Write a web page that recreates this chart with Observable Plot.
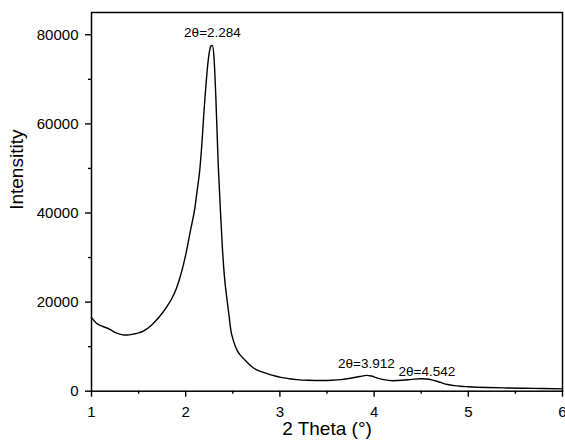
<!DOCTYPE html>
<html>
<head>
<meta charset="utf-8">
<script src="https://cdn.jsdelivr.net/npm/d3@7"></script>
<script src="https://cdn.jsdelivr.net/npm/@observablehq/plot@0.6"></script>
<style>
  html, body { margin: 0; padding: 0; background: white; }
</style>
</head>
<body>
<div id="chart"></div>
<script>
const theta = [1.00, 1.05, 1.10, 1.15, 1.20, 1.25, 1.30, 1.35, 1.40, 1.45, 1.50, 1.55, 1.60, 1.65, 1.70, 1.75, 1.80, 1.85, 1.90, 1.95, 2.00, 2.05, 2.10, 2.12, 2.15, 2.17, 2.19, 2.205, 2.22, 2.235, 2.25, 2.26, 2.27, 2.284, 2.30, 2.32, 2.345, 2.37, 2.39, 2.41, 2.44, 2.46, 2.48, 2.50, 2.53, 2.55, 2.58, 2.62, 2.67, 2.72, 2.80, 2.87, 2.95, 3.01, 3.10, 3.18, 3.30, 3.45, 3.55, 3.65, 3.75, 3.85, 3.92, 3.97, 4.02, 4.10, 4.20, 4.30, 4.40, 4.50, 4.56, 4.62, 4.70, 4.78, 4.85, 4.92, 5.00, 5.20, 5.40, 5.60, 5.80, 6.00];
const intensity = [16500, 15300, 14700, 14300, 13800, 13200, 12800, 12600, 12650, 12850, 13100, 13500, 14200, 15100, 16200, 17500, 19000, 20700, 23000, 26300, 30600, 36000, 41500, 44800, 49800, 55000, 61500, 66000, 70000, 73500, 76000, 77000, 77500, 77600, 75000, 66000, 51000, 40000, 32000, 26000, 20300, 17000, 13600, 11800, 9900, 9000, 8100, 7200, 6100, 5200, 4400, 3900, 3400, 3100, 2800, 2600, 2450, 2400, 2450, 2600, 2900, 3300, 3550, 3400, 3050, 2600, 2350, 2450, 2650, 2800, 2750, 2500, 2000, 1500, 1250, 1100, 1000, 830, 730, 660, 600, 530];

const peakLabels = ["2θ=2.284", "2θ=3.912", "2θ=4.542"];
const peakLabelX = [2.284, 3.918, 4.56];
const peakLabelY = [79400, 5250, 3520];

const xTicks = [1, 2, 3, 4, 5, 6];
const xMinorTicks = [1.5, 2.5, 3.5, 4.5, 5.5];
const yTicks = [0, 20000, 40000, 60000, 80000];
const yMinorTicks = [10000, 30000, 50000, 70000];

const xLabel = "2 Theta (°)";
const yLabel = "Intensitity";

const curve = theta.map((t, i) => ({t, v: intensity[i]}));
const peaks = peakLabels.map((s, i) => ({s, x: peakLabelX[i], y: peakLabelY[i]}));

const chart = Plot.plot({
  width: 565,
  height: 444,
  marginLeft: 91,
  marginRight: 3,
  marginTop: 12,
  marginBottom: 53.3,
  style: {fontFamily: "'Liberation Sans', Arial, sans-serif", background: "white", color: "black", overflow: "visible"},
  x: {domain: [1, 6]},
  y: {domain: [0, 85000]},
  marks: [
    Plot.axisX({ticks: xTicks, tickSize: 6, tickPadding: 9, fontSize: 15, strokeWidth: 1.4, label: null, tickFormat: d => String(d)}),
    Plot.axisX({ticks: xMinorTicks, tickSize: 3, strokeWidth: 1.4, label: null, tickFormat: () => ""}),
    Plot.axisY({ticks: yTicks, tickSize: 6, tickPadding: 7, fontSize: 15, strokeWidth: 1.4, label: null, tickFormat: d => String(d)}),
    Plot.axisY({ticks: yMinorTicks, tickSize: 3, strokeWidth: 1.4, label: null, tickFormat: () => ""}),
    Plot.frame({stroke: "black", strokeWidth: 1.5}),
    Plot.line(curve, {x: "t", y: "v", stroke: "black", strokeWidth: 1.4, curve: "monotone-x"}),
    Plot.text(peaks, {x: "x", y: "y", text: "s", fontSize: 13.5, textAnchor: "middle", lineAnchor: "bottom", fill: "black"}),
    Plot.text([xLabel], {frameAnchor: "bottom", dy: 43.5, fontSize: 19, fill: "black"}),
    Plot.text([yLabel], {frameAnchor: "left", dx: -75, dy: 8, rotate: -90, fontSize: 19, fill: "black"})
  ]
});
document.getElementById("chart").appendChild(chart);
</script>
</body>
</html>
